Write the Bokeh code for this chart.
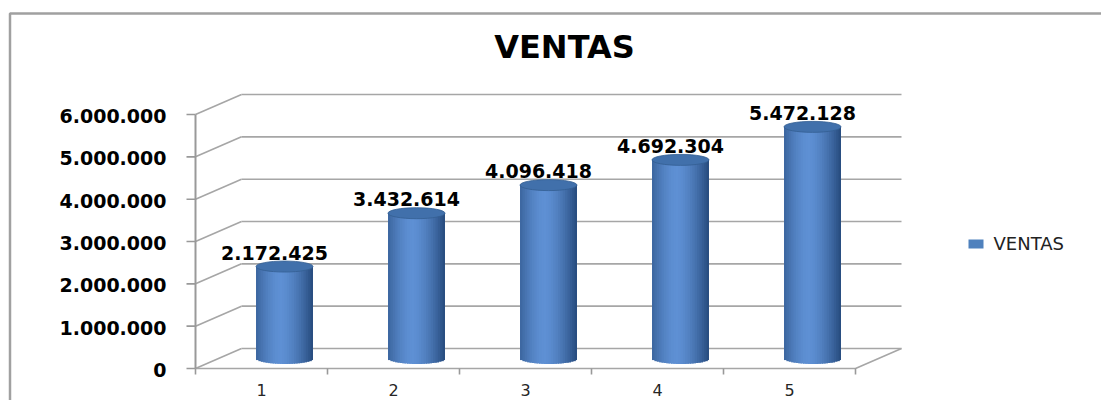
import numpy as np
from bokeh.plotting import figure
from bokeh.models import Range1d
from bokeh.core.properties import value
from bokeh.embed import file_html
from bokeh.resources import INLINE

# ---------------- data ----------------
categories = [1, 2, 3, 4, 5]
category_labels = ["1", "2", "3", "4", "5"]
ventas = [2172425, 3432614, 4096418, 4692304, 5472128]
value_labels = ["2.172.425", "3.432.614", "4.096.418", "4.692.304", "5.472.128"]
y_ticks = [0, 1000000, 2000000, 3000000, 4000000, 5000000, 6000000]
y_tick_labels = ["0", "1.000.000", "2.000.000", "3.000.000", "4.000.000", "5.000.000", "6.000.000"]
title_text = "VENTAS"
series_name = "VENTAS"

# ---------------- layout ----------------
W, H = 1101, 400
PX_X = 132.0            # pixels per category
PX_Y = 42.33 / 1e6      # pixels per unit of value
X0_PX = 195.0           # px of the left category boundary
Y0_PX = 368.0           # px (from top) of value 0

x_start = 0.5 - X0_PX / PX_X
x_end = x_start + W / PX_X
y_end = Y0_PX / PX_Y
y_start = -(H - Y0_PX) / PX_Y

def fx(px):
    return x_start + px / PX_X

def fy(py):
    return y_end - py / PX_Y

def dx(px):
    return px / PX_X

def dy(px):
    return px / PX_Y

DX = dx(46)   # depth offset
DY = dy(20)

p = figure(width=W, height=H, x_range=Range1d(x_start, x_end), y_range=Range1d(y_start, y_end),
           min_border=0, toolbar_location=None, output_backend="svg",
           x_axis_type=None, y_axis_type=None, outline_line_color=None,
           background_fill_color="white", border_fill_color="white")
p.xgrid.visible = False
p.ygrid.visible = False

FONT = value("DejaVu Sans")
GRID = "#A6A6A6"

# outer chart border (left + top)
p.line(x=[fx(9.5), fx(9.5), x_end], y=[y_start, fy(13), fy(13)], line_color="#A0A0A0", line_width=2.5)

x_left = 0.5
x_right = len(categories) + 0.5
ymax = y_ticks[-1]

# back wall gridlines
p.segment(x0=[x_left + DX] * len(y_ticks), y0=[v + DY for v in y_ticks],
          x1=[x_right + DX] * len(y_ticks), y1=[v + DY for v in y_ticks],
          line_color=GRID, line_width=1.6)
# left wall diagonals
p.segment(x0=[x_left] * len(y_ticks), y0=y_ticks,
          x1=[x_left + DX] * len(y_ticks), y1=[v + DY for v in y_ticks],
          line_color=GRID, line_width=1.6)
# floor front edge + right diagonal
p.line(x=[x_left, x_right, x_right + DX], y=[0, 0, DY], line_color=GRID, line_width=1.6)
# front y axis
p.line(x=[x_left, x_left], y=[0, ymax], line_color="#999999", line_width=2)
# y ticks
p.segment(x0=[x_left - dx(9)] * len(y_ticks), y0=y_ticks, x1=[x_left] * len(y_ticks), y1=y_ticks,
          line_color="#999999", line_width=1.6)
# x ticks at category boundaries
bounds = [c - 0.5 for c in categories] + [x_right]
p.segment(x0=bounds, y0=[0] * len(bounds), x1=bounds, y1=[-dy(6)] * len(bounds),
          line_color="#999999", line_width=1.6)

# ---------------- cylinders ----------------
CW = dx(57)
EH = dy(11)
N = 24
u_edges = np.linspace(-1, 1, N + 1)
u_c = (u_edges[:-1] + u_edges[1:]) / 2
dark = np.array([38, 74, 124])
light = np.array([94, 144, 212])
cols = []
for u in u_c:
    t = abs((u + 0.15) / 1.15)
    f = max(0.0, 1 - t ** 1.6)
    c = dark + (light - dark) * f
    cols.append("#%02x%02x%02x" % tuple(int(round(v)) for v in c))

base = DY / 2
for cat, v in zip(categories, ventas):
    cx = cat + DX / 2
    lefts = cx + u_edges[:-1] * CW / 2
    rights = np.minimum(cx + u_edges[1:] * CW / 2 + dx(1.2), cx + CW / 2)
    bottoms = base - EH / 2 * np.sqrt(np.clip(1 - u_c ** 2, 0, 1))
    tops = np.full(N, v + DY / 2)
    p.quad(left=lefts, right=rights, bottom=bottoms, top=tops, fill_color=cols, line_color=None)
    p.ellipse(x=[cx], y=[v + DY / 2], width=CW, height=EH, fill_color="#4170AB",
              line_color="#345E92", line_width=0.8)

# data labels
p.text(x=[c + DX / 2 - dx(10) for c in categories], y=[v + DY / 2 + dy(14) for v in ventas],
       text=value_labels, text_align="center", text_baseline="middle",
       text_font=FONT, text_font_style="bold", text_font_size="19px", text_color="#000000")

# y tick labels
p.text(x=[x_left - dx(29)] * len(y_ticks), y=[v - dy(1.5) for v in y_ticks], text=y_tick_labels,
       text_align="right", text_baseline="middle",
       text_font=FONT, text_font_style="bold", text_font_size="19px", text_color="#000000")

# x category labels
p.text(x=categories, y=[-dy(21)] * len(categories), text=category_labels,
       text_align="center", text_baseline="middle",
       text_font=FONT, text_font_size="16px", text_color="#262626")

# title
p.text(x=[fx(564)], y=[fy(46)], text=[title_text], text_align="center", text_baseline="middle",
       text_font=FONT, text_font_style="bold", text_font_size="32px", text_color="#000000")

# legend
p.quad(left=[fx(968)], right=[fx(983)], top=[fy(239)], bottom=[fy(248)], fill_color="#4F81BD", line_color=None)
p.text(x=[fx(993)], y=[fy(243)], text=[series_name], text_align="left", text_baseline="middle",
       text_font=FONT, text_font_size="18px", text_color="#222222")

open("out.html", "w").write(file_html(p, INLINE))
